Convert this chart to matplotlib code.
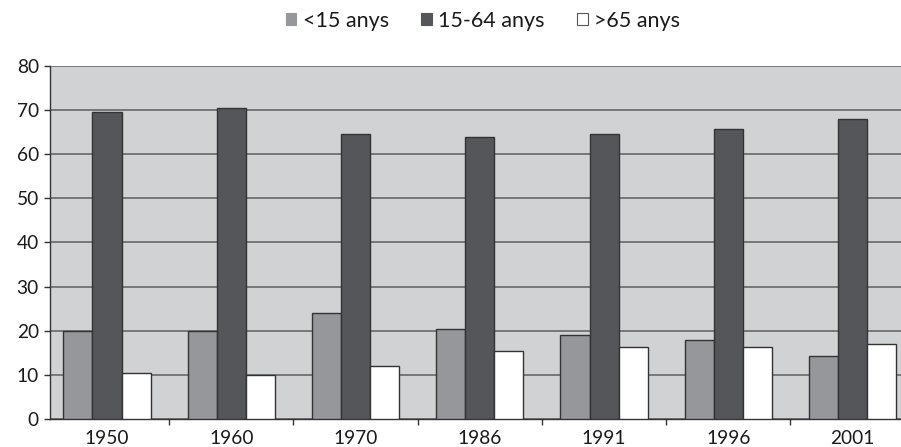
import matplotlib
matplotlib.use("Agg")
import matplotlib.pyplot as plt
from matplotlib.patches import Patch
import numpy as np

years = ["1950", "1960", "1970", "1986", "1991", "1996", "2001"]
series_names = ["<15 anys", "15-64 anys", ">65 anys"]
under15 = [20.0, 20.0, 24.0, 20.3, 19.0, 17.9, 14.2]
age15_64 = [69.5, 70.4, 64.5, 64.0, 64.5, 65.7, 68.1]
over65 = [10.4, 10.0, 11.9, 15.4, 16.3, 16.3, 17.1]
yticks = [0, 10, 20, 30, 40, 50, 60, 70, 80]

colors = ["#96979b", "#55565a", "#ffffff"]
bg = "#d1d2d4"

plt.rcParams["font.family"] = ["Lato", "DejaVu Sans"]

W, H = 901, 447
fig = plt.figure(figsize=(W / 100, H / 100), dpi=100)
ax = fig.add_axes([50 / W, (H - 419) / H, (W - 50) / W, (419 - 66) / H])
ax.set_facecolor(bg)

x = np.arange(len(years))
bw = 0.234
for i, (vals, c) in enumerate(zip([under15, age15_64, over65], colors)):
    ax.bar(x + (i - 1) * bw, vals, width=bw, color=c, edgecolor="#333333",
           linewidth=1.0, zorder=3, label=series_names[i])

ax.set_xlim(-0.459, 6.39)
ax.set_ylim(0, 80)
ax.set_yticks(yticks)
ax.set_yticklabels([str(v) for v in yticks])
ax.set_xticks(x)
ax.set_xticklabels(years)
ax.set_xticks(x[:-1] + 0.5, minor=True)
ax.tick_params(axis="x", which="major", length=0, labelsize=13.8, pad=8, colors="#1a1a1a")
ax.tick_params(axis="x", which="minor", length=4, width=1, direction="out", color="#333333")
ax.tick_params(axis="y", length=4, width=1, direction="out", labelsize=13.8, pad=4,
               color="#333333", labelcolor="#1a1a1a")

ax.grid(axis="y", color="#5e5e60", linewidth=1.1, zorder=1)
ax.set_axisbelow(True)
for s in ["top", "right"]:
    ax.spines[s].set_visible(False)
for s in ["left", "bottom"]:
    ax.spines[s].set_color("#333333")
    ax.spines[s].set_linewidth(1.0)

handles = [Patch(facecolor=c, edgecolor=("#555555" if c == "#ffffff" else c), linewidth=0.8)
           for c in colors]
fig.legend(handles, series_names, loc="center", bbox_to_anchor=(483 / W, 1 - 21 / H),
           ncol=3, frameon=False, fontsize=15.5, handlelength=0.5, handleheight=0.5,
           handletextpad=0.3, columnspacing=1.5, labelcolor="#1a1a1a")

fig.savefig("out.png", dpi=100)
